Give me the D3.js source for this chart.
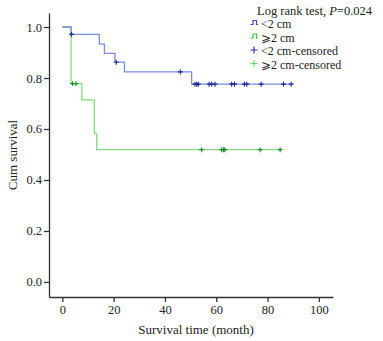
<!DOCTYPE html>
<html>
<head>
<meta charset="utf-8">
<script src="https://cdn.jsdelivr.net/npm/d3@7"></script>
<style>
  body { margin: 0; background: #fff; }
  text { font-family: "Liberation Serif", "Times New Roman", serif; fill: #222; }
</style>
</head>
<body>
<svg id="svg" width="383" height="341"></svg>
<script>
// Kaplan-Meier steps
const smallTimes = [0, 3.4, 14.4, 16.4, 20.5, 24.2, 50.4];
const smallSurv = [1, 0.971, 0.933, 0.897, 0.862, 0.824, 0.776];
const smallEnd = 89.2;
const smallCensored = [3.6, 21, 46, 51.7, 52.4, 53, 57.2, 58.2, 59.5, 66, 67.1, 71, 71.9, 77.5, 86.2, 89.2];

const largeTimes = [0, 3.4, 7.6, 12.5, 13.4];
const largeSurv = [1, 0.778, 0.714, 0.583, 0.519];
const largeEnd = 85;
const largeCensored = [4, 5.3, 54.3, 62.1, 62.8, 63.3, 77.1, 84.9];

const xTicks = [0, 20, 40, 60, 80, 100];
const yTicks = [0, 0.2, 0.4, 0.6, 0.8, 1.0];

const colors = {
  smallLine: "#7b8cdc",
  smallMark: "#1d2a8f",
  largeLine: "#86da86",
  largeMark: "#1f8c2a"
};

const svg = d3.select("svg#svg");

const x = d3.scaleLinear().domain([-5.2, 105.5]).range([49, 333]);
const y = d3.scaleLinear().domain([-0.059, 1.055]).range([297, 13]);

// axes
const yAxis = svg.append("g")
  .attr("transform", "translate(49,0)")
  .call(d3.axisLeft(y).tickValues(yTicks).tickFormat(d3.format(".1f")).tickSize(5).tickSizeOuter(0));

const xAxis = svg.append("g")
  .attr("transform", "translate(0,297)")
  .call(d3.axisBottom(x).tickValues(xTicks).tickSize(5).tickSizeOuter(0));

[yAxis, xAxis].forEach(function(a) {
  a.selectAll("path, line").attr("stroke", "#333").attr("stroke-width", 1.3);
  a.selectAll("text").attr("font-family", "Liberation Serif").attr("font-size", 12.5).attr("fill", "#222");
});
yAxis.selectAll("text").attr("x", -7);
xAxis.selectAll("text").attr("y", 8);

svg.append("text")
  .attr("transform", "translate(17,155) rotate(-90)")
  .attr("text-anchor", "middle")
  .attr("font-size", 13)
  .text("Cum survival");

svg.append("text")
  .attr("x", 196)
  .attr("y", 334)
  .attr("text-anchor", "middle")
  .attr("font-size", 13)
  .text("Survival time (month)");

// survival curves
var survAt = function(times, surv, t) {
  let s = surv[0];
  times.forEach(function(tt, i) { if (tt <= t) s = surv[i]; });
  return s;
};

var drawGroup = function(times, surv, end, censored, lineColor, markColor) {
  let pts = times.map((t, i) => [t, surv[i]]);
  pts.push([end, surv[surv.length - 1]]);

  svg.append("path")
    .datum(pts)
    .attr("fill", "none")
    .attr("stroke", lineColor)
    .attr("stroke-width", 1.3)
    .attr("d", d3.line().x(d => x(d[0])).y(d => y(d[1])).curve(d3.curveStepAfter));

  svg.append("g").selectAll("path")
    .data(censored)
    .enter()
    .append("path")
    .attr("fill", "none")
    .attr("stroke", markColor)
    .attr("stroke-width", 1.1)
    .attr("d", function(t) {
      let cx = x(t), cy = y(survAt(times, surv, t));
      return "M" + (cx - 2.5) + "," + cy + "H" + (cx + 2.5) + "M" + cx + "," + (cy - 2.5) + "V" + (cy + 2.5);
    });
};

drawGroup(largeTimes, largeSurv, largeEnd, largeCensored, colors.largeLine, colors.largeMark);
drawGroup(smallTimes, smallSurv, smallEnd, smallCensored, colors.smallLine, colors.smallMark);

// legend
const legend = svg.append("g");
legend.append("text")
  .attr("x", 257)
  .attr("y", 14.5)
  .attr("font-size", 12.5)
  .html('Log rank test, <tspan font-style="italic">P</tspan>=0.024');

const legendRows = [
  { label: "<2 cm", kind: "step", color: "#3a4cc0" },
  { label: "\u2A7E2 cm", kind: "step", color: "#3cc43c" },
  { label: "<2 cm-censored", kind: "plus", color: "#2a36a8" },
  { label: "\u2A7E2 cm-censored", kind: "plus", color: "#70d470" }
];

const row = legend.selectAll("g.row")
  .data(legendRows)
  .enter()
  .append("g")
  .attr("class", "row")
  .attr("transform", (d, i) => "translate(0," + (28 + i * 13.5) + ")");

row.append("path")
  .attr("fill", "none")
  .attr("stroke", d => d.color)
  .attr("stroke-width", 1.2)
  .attr("d", function(d) {
    if (d.kind === "step") return "M250.5,-3.5H253V-7.5H256.5V-3.5H258";
    return "M250.5,-5H257.5M254,-8.5V-1.5";
  });

row.append("text")
  .attr("x", 261)
  .attr("y", 0)
  .attr("font-size", 12)
  .text(d => d.label);
</script>
</body>
</html>
